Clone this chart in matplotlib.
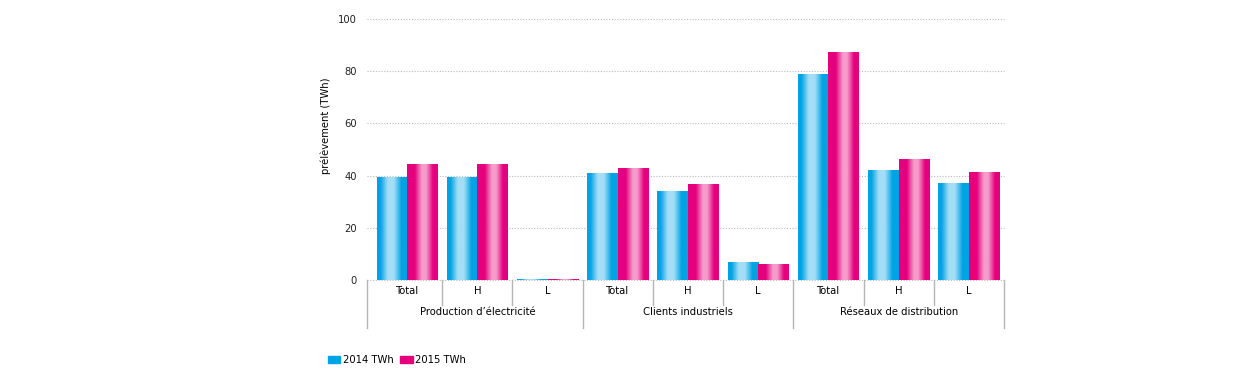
import matplotlib
matplotlib.use('Agg')
import matplotlib.pyplot as plt
import matplotlib.transforms as mtransforms
from matplotlib.colors import LinearSegmentedColormap
from matplotlib.patches import Patch
import numpy as np

plt.rcParams['font.family'] = ['DejaVu Sans']
plt.rcParams['font.stretch'] = 'condensed'

# données
groups = ['Production d\u2019électricité', 'Clients industriels', 'Réseaux de distribution']
subcats = ['Total', 'H', 'L']
values_2014 = [39.5, 39.5, 0.3, 41.0, 34.1, 6.9, 78.9, 42.1, 37.2]
values_2015 = [44.4, 44.4, 0.3, 42.9, 36.8, 6.1, 87.4, 46.4, 41.4]
series_labels = ['2014 TWh', '2015 TWh']

blue = '#00a3e3'
pink = '#e5007e'
cmap_blue = LinearSegmentedColormap.from_list(
    'b', [(0, blue), (0.1, blue), (0.35, '#a3def6'), (0.55, '#a3def6'), (0.8, blue), (1, blue)])
cmap_pink = LinearSegmentedColormap.from_list(
    'p', [(0, pink), (0.25, pink), (0.48, '#f59ccb'), (0.62, '#f59ccb'), (0.85, pink), (1, pink)])

fs = 8
fig = plt.figure(figsize=(12.5, 3.87), dpi=100)
ax = fig.add_axes([372/1250, 1 - 280/387, (1004 - 372)/1250, (280 - 19)/387])

n = len(values_2014)
x = np.arange(n)
w = 0.435
grad = np.linspace(0, 1, 64).reshape(1, -1)

for vals, off, cm, col in [(values_2014, -w/2, cmap_blue, blue), (values_2015, w/2, cmap_pink, pink)]:
    bars = ax.bar(x + off, vals, width=w, color=col, zorder=2)
    for b in bars:
        im = ax.imshow(grad, cmap=cm, aspect='auto', zorder=3,
                       extent=[b.get_x(), b.get_x() + b.get_width(), 0, b.get_height()])
        im.set_clip_path(b)

ax.set_xlim(-0.5, n - 0.5)
ax.set_ylim(0, 100)
ax.set_yticks([0, 20, 40, 60, 80, 100])
ax.tick_params(axis='y', length=0, pad=11, labelsize=fs, colors='#222222')
ax.set_xticks([])
for s in ax.spines.values():
    s.set_visible(False)

# grille pointillée (un peu plus large que la zone des barres, comme l'original)
for yv in [0, 20, 40, 60, 80, 100]:
    ax.plot([-0.57, n - 0.5], [yv, yv], linestyle=(0, (1, 1.5)), color='#bbbbbb',
            linewidth=0.8, zorder=0, clip_on=False)
ax.set_ylabel('prélèvement (TWh)', fontsize=fs)
ax.yaxis.set_label_coords(-0.065, 0.59)

# axe catégoriel à deux niveaux
trans = mtransforms.blended_transform_factory(ax.transData, ax.transAxes)
sep_color = '#b5b5b5'
for i in range(n + 1):
    xb = i - 0.5
    if i == 0:
        xb = -0.57
    y_end = -0.184 if i % 3 == 0 else -0.096
    ax.plot([xb, xb], [0, y_end], transform=trans, color=sep_color, lw=1, clip_on=False)
for i in range(n):
    ax.text(i, -0.042, subcats[i % 3], transform=trans, ha='center', va='center', fontsize=fs)
for g, name in enumerate(groups):
    ax.text(3 * g + 1, -0.123, name, transform=trans, ha='center', va='center', fontsize=fs)

handles = [Patch(color=blue), Patch(color=pink)]
fig.legend(handles, series_labels, loc='center left', bbox_to_anchor=(318/1250, 1 - 360/387),
           ncol=2, frameon=False, fontsize=fs, handlelength=1.1, handleheight=0.6,
           handletextpad=0.25, columnspacing=0.6)

fig.savefig('out.png', dpi=100)
